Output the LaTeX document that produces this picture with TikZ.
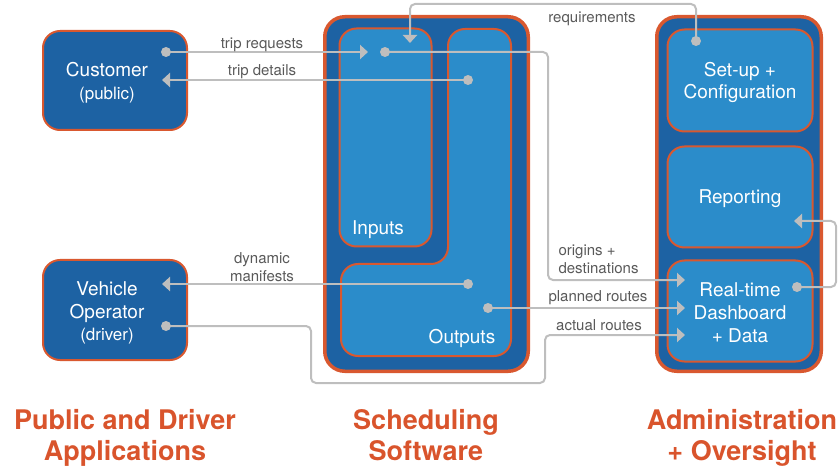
\documentclass[tikz,border=0pt]{standalone}
\usepackage{fontspec}
\setmainfont{TeX Gyre Heros}
\usetikzlibrary{arrows.meta}

\definecolor{panelblue}{HTML}{1D62A3}
\definecolor{boxblue}{HTML}{2B8CCA}
\definecolor{rim}{HTML}{D9582F}
\definecolor{wiregray}{HTML}{BEBEBE}
\definecolor{labelgray}{HTML}{595959}
\definecolor{headorange}{HTML}{D9542C}

\tikzset{
  panel/.style={fill=panelblue, draw=rim, line width=3.5pt, rounded corners=20pt},
  module/.style={fill=boxblue, draw=rim, line width=2pt, rounded corners=17pt},
  client/.style={fill=panelblue, draw=rim, line width=2pt, rounded corners=17pt},
  boxtext/.style={text=white, align=center, font=\fontsize{19}{22.8}\selectfont},
  wire/.style={draw=wiregray, line width=2pt, rounded corners=5pt},
  feed/.style={wire, -{Triangle[length=8pt,width=14pt]}},
  dot/.style={circle, fill=wiregray, inner sep=0pt, minimum size=10pt},
  flowlabel/.style={text=labelgray, align=center, font=\fontsize{15}{18}\selectfont},
  heading/.style={text=headorange, align=center, anchor=north,
    font=\bfseries\fontsize{27}{31}\selectfont},
}

\newcommand{\sublabel}[1]{{\fontsize{17}{22.8}\selectfont #1}}

\begin{document}
\begin{tikzpicture}[x=1pt, y=-1pt]
\useasboundingbox (0,0) rectangle (839,468);

% ---- client applications ----
\node[client, minimum width=144pt, minimum height=99pt] (customer) at (115,80.5) {};
\node[client, minimum width=144pt, minimum height=100pt] (operator) at (115,310) {};
\node[boxtext] (customerName) at (107,83) {Customer\\\sublabel{(public)}};
\node[boxtext] (operatorName) at (107,313) {Vehicle\\Operator\\\sublabel{(driver)}};

% ---- scheduling software ----
\node[panel, minimum width=203.5pt, minimum height=354.5pt] (scheduling) at (426.5,194) {};
\node[module, minimum width=92pt, minimum height=218pt] (inputs) at (385.5,137.5) {};
\draw[module] (448,29) -- (511,29) -- (511,356) -- (341,356) -- (341,264)
  -- (448,264) -- cycle;
\node[boxtext] (inputsName) at (378,229.5) {Inputs};
\node[boxtext] (outputsName) at (462,338) {Outputs};

% ---- administration ----
\node[panel, minimum width=164.5pt, minimum height=354.5pt] (admin) at (739,194) {};
\node[module, minimum width=145pt, minimum height=102pt] (setup) at (740,80.5) {};
\node[module, minimum width=145pt, minimum height=101pt] (reporting) at (740,197) {};
\node[module, minimum width=145pt, minimum height=101pt] (realtime) at (740,311) {};
\node[boxtext] (setupName) at (740,82.5) {Set-up +\\Configuration};
\node[boxtext] (reportingName) at (740,199) {Reporting};
\node[boxtext] (realtimeName) at (740,313) {Real-time\\Dashboard\\+ Data};

% ---- connector ends ----
\coordinate (custOut) at (166,52);
\coordinate (custIn) at (162,80);
\coordinate (drvIn) at (162,284);
\coordinate (drvOut) at (166,326);
\coordinate (reqEnd) at (410,43);
\coordinate (tripEnd) at (368,52);
\coordinate (inOut) at (385,52);
\coordinate (detailOut) at (468,80);
\coordinate (manifestOut) at (468,284);
\coordinate (routeOut) at (488,308);
\coordinate (setupOut) at (696,41);
\coordinate (rtOrigins) at (685,280);
\coordinate (rtPlanned) at (685,308);
\coordinate (rtActual) at (685,335);
\coordinate (rtOut) at (797,287);
\coordinate (repIn) at (794,221);
% rails the bent connectors run along
\coordinate (reqRail) at (600,4);
\coordinate (orgRail) at (548,150);
\coordinate (actLow) at (311,383);
\coordinate (actRise) at (545,360);
\coordinate (loopRail) at (836,250);

% ---- connectors ----
\draw[feed] (custOut) -- (tripEnd);
\draw[feed] (detailOut) -- (custIn);
\draw[feed] (setupOut) |- (reqRail) -| (reqEnd);
\draw[feed] (inOut) -| (orgRail) |- (rtOrigins);
\draw[feed] (manifestOut) -- (drvIn);
\draw[feed] (routeOut) -- (rtPlanned);
\draw[feed] (drvOut) -| (actLow) -| (actRise) |- (rtActual);
\draw[feed] (rtOut) -| (loopRail) |- (repIn);

\foreach \p in {custOut, drvOut, inOut, detailOut, manifestOut, routeOut, setupOut, rtOut}
  \node[dot] at (\p) {};

% ---- connector labels ----
\node[flowlabel] (lblTripReq) at (262,45) {trip requests};
\node[flowlabel] (lblTripDet) at (262,72) {trip details};
\node[flowlabel] (lblReq) at (592,19) {requirements};
\node[flowlabel, align=left, anchor=west] (lblOrig) at (555,259) {origins +\\destinations};
\node[flowlabel] (lblManifest) at (262,267) {dynamic\\manifests};
\node[flowlabel] (lblPlanned) at (598,298) {planned routes};
\node[flowlabel] (lblActual) at (599,325) {actual routes};

% ---- section headings ----
\node[heading] (headApps) at (125,405.5) {Public and Driver\\Applications};
\node[heading] (headSched) at (426,405.5) {Scheduling\\Software};
\node[heading] (headAdmin) at (742,405.5) {Administration\\+ Oversight};
\end{tikzpicture}
\end{document}
